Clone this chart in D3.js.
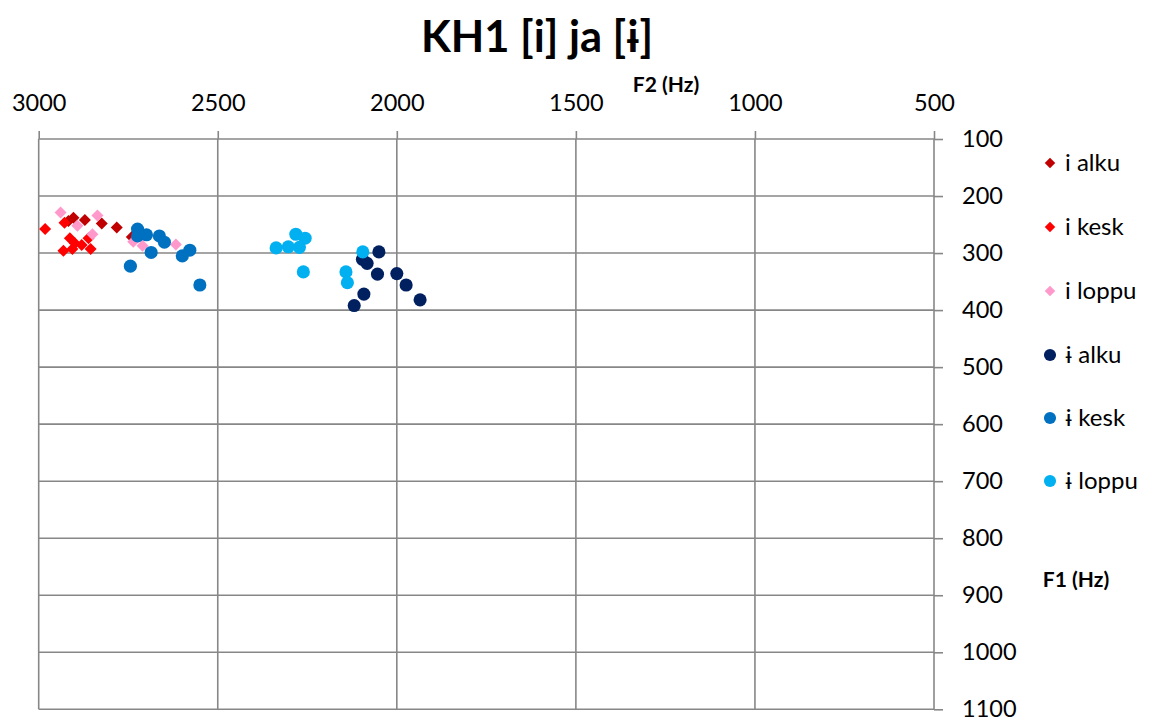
<!DOCTYPE html>
<html><head><meta charset="utf-8">
<script src="https://cdn.jsdelivr.net/npm/d3@7"></script>
<style>
html,body{margin:0;padding:0;background:#fff;}
svg text{font-family:Lato,"DejaVu Sans",sans-serif;fill:#000;}
</style></head>
<body>
<svg id="chart" width="1152" height="719"></svg>
<script>
const title = "KH1 [i] ja [ɨ]";
const xTicks = [3000, 2500, 2000, 1500, 1000, 500];
const yTicks = [100, 200, 300, 400, 500, 600, 700, 800, 900, 1000, 1100];
const seriesNames = ["i alku", "i kesk", "i loppu", "ɨ alku", "ɨ kesk", "ɨ loppu"];
const seriesShapes = ["diamond", "diamond", "diamond", "circle", "circle", "circle"];
const seriesColors = ["#C00000", "#FF0000", "#FF99CC", "#002060", "#0070C0", "#00B0F0"];

// [F2, F1]
const iAlku = [[2903,238],[2917,244],[2871,242],[2824,248],[2782,255],[2740,272]];
const iKesk = [[2982,258],[2928,247],[2913,274],[2899,283],[2880,286],[2931,296],[2906,293],[2855,293],[2861,274]];
const iLoppu = [[2939,229],[2836,234],[2892,252],[2850,267],[2736,280],[2710,287],[2617,285]];
const yAlku = [[2096,311],[2083,318],[2050,298],[2054,337],[2000,336],[1974,356],[1935,382],[2092,372],[2119,392]];
const yKesk = [[2724,258],[2724,270],[2699,268],[2663,270],[2649,281],[2686,299],[2744,323],[2599,305],[2578,295],[2550,356]];
const yLoppu = [[2337,291],[2303,289],[2272,290],[2282,267],[2256,274],[2261,333],[2142,333],[2138,352],[2095,298]];
const seriesData = [iAlku, iKesk, iLoppu, yAlku, yKesk, yLoppu];

const svg = d3.select("#chart");
const x = d3.scaleLinear().domain([3000, 500]).range([38.7, 934]);
const y = d3.scaleLinear().domain([100, 1100]).range([139, 709.3]);
const gridColor = "#878787";

// gridlines
const grid = svg.append("g");
grid.selectAll("line.v").data(xTicks).join("line")
  .attr("x1", d => x(d)).attr("x2", d => x(d))
  .attr("y1", y(100)).attr("y2", y(1100))
  .attr("stroke", gridColor).attr("stroke-width", 1.6);
grid.selectAll("line.h").data(yTicks).join("line")
  .attr("x1", x(3000)).attr("x2", x(500))
  .attr("y1", d => y(d)).attr("y2", d => y(d))
  .attr("stroke", gridColor).attr("stroke-width", 1.6);

// top axis
const xAxis = svg.append("g").attr("transform", `translate(0,${y(100)})`)
  .call(d3.axisTop(x).tickValues(xTicks).tickFormat(d3.format("d")).tickSize(8).tickPadding(20));
xAxis.select(".domain").remove();
xAxis.selectAll(".tick line").attr("stroke", gridColor).attr("stroke-width", 1.6);
xAxis.selectAll(".tick text").attr("font-size", 23.5).attr("font-family", "Lato").attr("fill", "#000");

// right axis
const yAxis = svg.append("g").attr("transform", `translate(${x(500)},0)`)
  .call(d3.axisRight(y).tickValues(yTicks).tickFormat(d3.format("d")).tickSize(9).tickPadding(19));
yAxis.select(".domain").remove();
yAxis.selectAll(".tick line").attr("stroke", gridColor).attr("stroke-width", 1.6);
yAxis.selectAll(".tick text").attr("font-size", 23.5).attr("font-family", "Lato").attr("fill", "#000").attr("dy", "0.3em");

// markers
const diamond = d3.symbol().type(d3.symbolSquare).size(72);
const circle = d3.symbol().type(d3.symbolCircle).size(135);
seriesData.forEach((data, i) => {
  const g = svg.append("g");
  g.selectAll("path").data(data).join("path")
    .attr("d", seriesShapes[i] === "diamond" ? diamond() : circle())
    .attr("transform", d => `translate(${x(d[0])},${y(d[1])})` + (seriesShapes[i] === "diamond" ? " rotate(45)" : ""))
    .attr("fill", seriesColors[i]);
});

// title and axis titles
svg.append("text").attr("x", 537).attr("y", 52).attr("text-anchor", "middle")
  .attr("font-size", 43.5).attr("font-weight", "bold").text(title);
svg.append("text").attr("x", 666).attr("y", 92).attr("text-anchor", "middle")
  .attr("font-size", 21).attr("font-weight", "bold").text("F2 (Hz)");
svg.append("text").attr("x", 1076).attr("y", 587).attr("text-anchor", "middle")
  .attr("font-size", 21).attr("font-weight", "bold").text("F1 (Hz)");

// legend
const legend = svg.append("g");
const legY = [163, 227, 291, 355, 418, 481];
seriesNames.forEach((name, i) => {
  const shape = seriesShapes[i] === "diamond" ? d3.symbol().type(d3.symbolSquare).size(55) : d3.symbol().type(d3.symbolCircle).size(115);
  legend.append("path").attr("d", shape())
    .attr("transform", `translate(1050,${legY[i]})` + (seriesShapes[i] === "diamond" ? " rotate(45)" : ""))
    .attr("fill", seriesColors[i]);
  legend.append("text").attr("x", 1065).attr("y", legY[i]).attr("dy", "0.35em")
    .attr("font-size", 24).text(name);
});
</script>
</body></html>
